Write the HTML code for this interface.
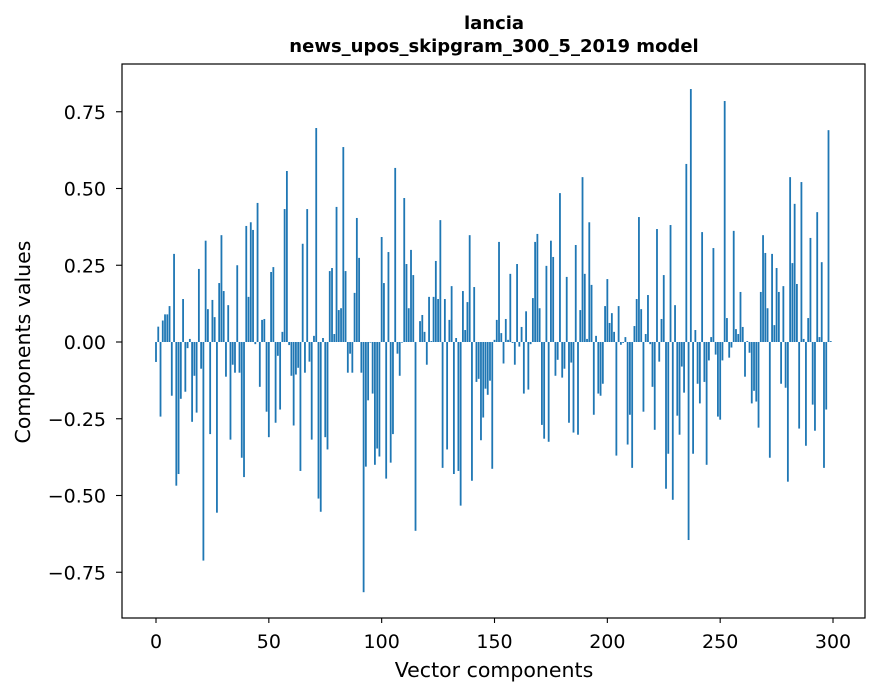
<!DOCTYPE html>
<html><head><meta charset="utf-8"><style>
html,body{margin:0;padding:0;background:#fff;}
svg{display:block;font-family:"DejaVu Sans","Liberation Sans",sans-serif;}
</style></head><body>
<svg id="chart" width="880" height="696" viewBox="0 0 880 696">
<rect width="880" height="696" fill="#fff"/>
<text x="494" y="29" text-anchor="middle" font-weight="bold" font-size="18">lancia</text>
<text x="494" y="52" text-anchor="middle" font-weight="bold" font-size="18">news_upos_skipgram_300_5_2019 model</text>
<g id="bars"></g>
<g id="xticks"></g>
<g id="yticks"></g>
<rect x="122" y="64" width="743" height="554" fill="none" stroke="#000" stroke-width="1.2"/>
<text x="494" y="677" text-anchor="middle" font-size="20.5">Vector components</text>
<text transform="translate(30,342) rotate(-90)" text-anchor="middle" font-size="20.5">Components values</text>
</svg>
<script>
const values = [
-0.065,0.05,-0.243,0.07,0.09,0.09,0.117,-0.175,0.287,-0.468,
-0.43,-0.185,0.14,-0.162,-0.02,0.01,-0.26,-0.11,-0.23,0.238,
-0.087,-0.712,0.33,0.107,-0.30,0.137,0.081,-0.556,0.192,0.348,
0.166,-0.113,0.12,-0.318,-0.074,-0.10,0.25,-0.10,-0.377,-0.44,
0.378,0.147,0.39,0.365,-0.007,0.453,-0.146,0.072,0.075,-0.227,
-0.31,0.228,0.244,-0.263,-0.045,-0.22,0.033,0.433,0.557,-0.01,
-0.11,-0.272,-0.106,-0.084,-0.42,0.32,-0.10,0.433,-0.064,-0.318,
0.02,0.697,-0.51,-0.553,0.013,-0.31,-0.35,0.231,0.241,0.026,
0.44,0.104,0.11,0.635,0.231,-0.10,-0.038,-0.10,0.16,0.404,
0.274,-0.10,-0.815,-0.406,-0.19,-0.002,-0.168,-0.40,-0.347,-0.373,
0.342,0.192,-0.445,0.293,-0.393,-0.30,0.567,-0.038,-0.11,-0.002,
0.469,0.254,0.11,0.30,0.218,-0.615,0.0,0.068,0.088,0.033,
-0.074,0.147,0.003,0.147,0.264,0.14,0.397,-0.41,0.14,-0.35,
0.072,0.182,-0.43,0.013,-0.42,-0.533,0.166,0.039,0.13,0.348,
-0.452,0.179,-0.13,-0.12,-0.32,-0.246,-0.152,-0.172,-0.126,-0.413,
0.007,0.072,0.326,0.029,-0.07,0.075,0.007,0.222,-0.003,-0.074,
0.254,-0.015,0.049,-0.168,0.10,-0.155,-0.007,0.143,0.326,0.352,
0.11,-0.27,-0.315,0.248,-0.325,0.33,0.277,-0.11,-0.058,0.485,
-0.116,-0.087,0.212,-0.263,-0.067,-0.295,0.316,-0.302,0.104,0.537,
0.222,0.01,0.39,0.186,-0.237,0.02,-0.168,-0.175,-0.136,0.117,
0.205,0.062,0.094,0.033,-0.37,0.117,-0.009,-0.003,0.016,-0.334,
-0.237,-0.41,0.052,0.14,0.407,0.107,-0.227,0.026,0.153,-0.007,
-0.146,-0.286,0.368,-0.064,0.075,0.218,-0.478,-0.364,0.381,-0.514,
0.12,-0.24,-0.302,-0.08,-0.165,0.58,-0.645,0.824,-0.364,0.039,
-0.136,-0.2,0.358,-0.13,-0.40,-0.06,0.016,0.306,-0.041,-0.243,
-0.253,-0.06,0.785,0.078,-0.051,-0.018,0.362,0.042,0.026,0.163,
0.049,-0.113,0.003,-0.035,-0.2,-0.159,-0.194,-0.279,0.163,0.348,
0.29,0.11,-0.377,0.287,0.055,0.241,0.163,-0.136,0.182,-0.149,
-0.455,0.537,0.257,0.45,0.189,-0.282,0.521,0.01,-0.338,0.078,
0.339,-0.204,-0.289,0.423,0.016,0.26,-0.41,-0.22,0.69,0.003
];
const xTicks = [0,50,100,150,200,250,300];
const yTicks = [-0.75,-0.5,-0.25,0,0.25,0.5,0.75];
const yTickLabels = ["\u22120.75","\u22120.50","\u22120.25","0.00","0.25","0.50","0.75"];

const NS = "http://www.w3.org/2000/svg";
function xScale(v){ return 156 + v * 2.2567; }
function yScale(v){ return 342 - v * 307; }

const barsG = document.getElementById('bars');
values.forEach((v, i) => {
  const r = document.createElementNS(NS, 'rect');
  const w = 0.8 * 2.2567;
  const y0 = yScale(0), y1 = yScale(v);
  r.setAttribute('x', xScale(i) - w / 2);
  r.setAttribute('y', Math.min(y0, y1));
  r.setAttribute('width', w);
  r.setAttribute('height', Math.max(Math.abs(y1 - y0), 0.01));
  r.setAttribute('fill', '#1f77b4');
  
  
  barsG.appendChild(r);
});

const xg = document.getElementById('xticks');
xTicks.forEach(t => {
  const x = xScale(t);
  const l = document.createElementNS(NS, 'line');
  l.setAttribute('x1', x); l.setAttribute('x2', x);
  l.setAttribute('y1', 618); l.setAttribute('y2', 623);
  l.setAttribute('stroke', '#000'); l.setAttribute('stroke-width', '1.1');
  
  
  xg.appendChild(l);
  const tx = document.createElementNS(NS, 'text');
  tx.setAttribute('x', x); tx.setAttribute('y', 648);
  tx.setAttribute('text-anchor', 'middle'); tx.setAttribute('font-size', '19');
  tx.textContent = String(t);
  
  
  xg.appendChild(tx);
});

const yg = document.getElementById('yticks');
yTicks.forEach((t, i) => {
  const y = yScale(t);
  const l = document.createElementNS(NS, 'line');
  l.setAttribute('x1', 116); l.setAttribute('x2', 122);
  l.setAttribute('y1', y); l.setAttribute('y2', y);
  l.setAttribute('stroke', '#000'); l.setAttribute('stroke-width', '1.1');
  
  
  yg.appendChild(l);
  const tx = document.createElementNS(NS, 'text');
  tx.setAttribute('x', 106); tx.setAttribute('y', y + 7);
  tx.setAttribute('text-anchor', 'end'); tx.setAttribute('font-size', '19');
  tx.textContent = yTickLabels[i];
  
  
  yg.appendChild(tx);
});
</script>
</body></html>
